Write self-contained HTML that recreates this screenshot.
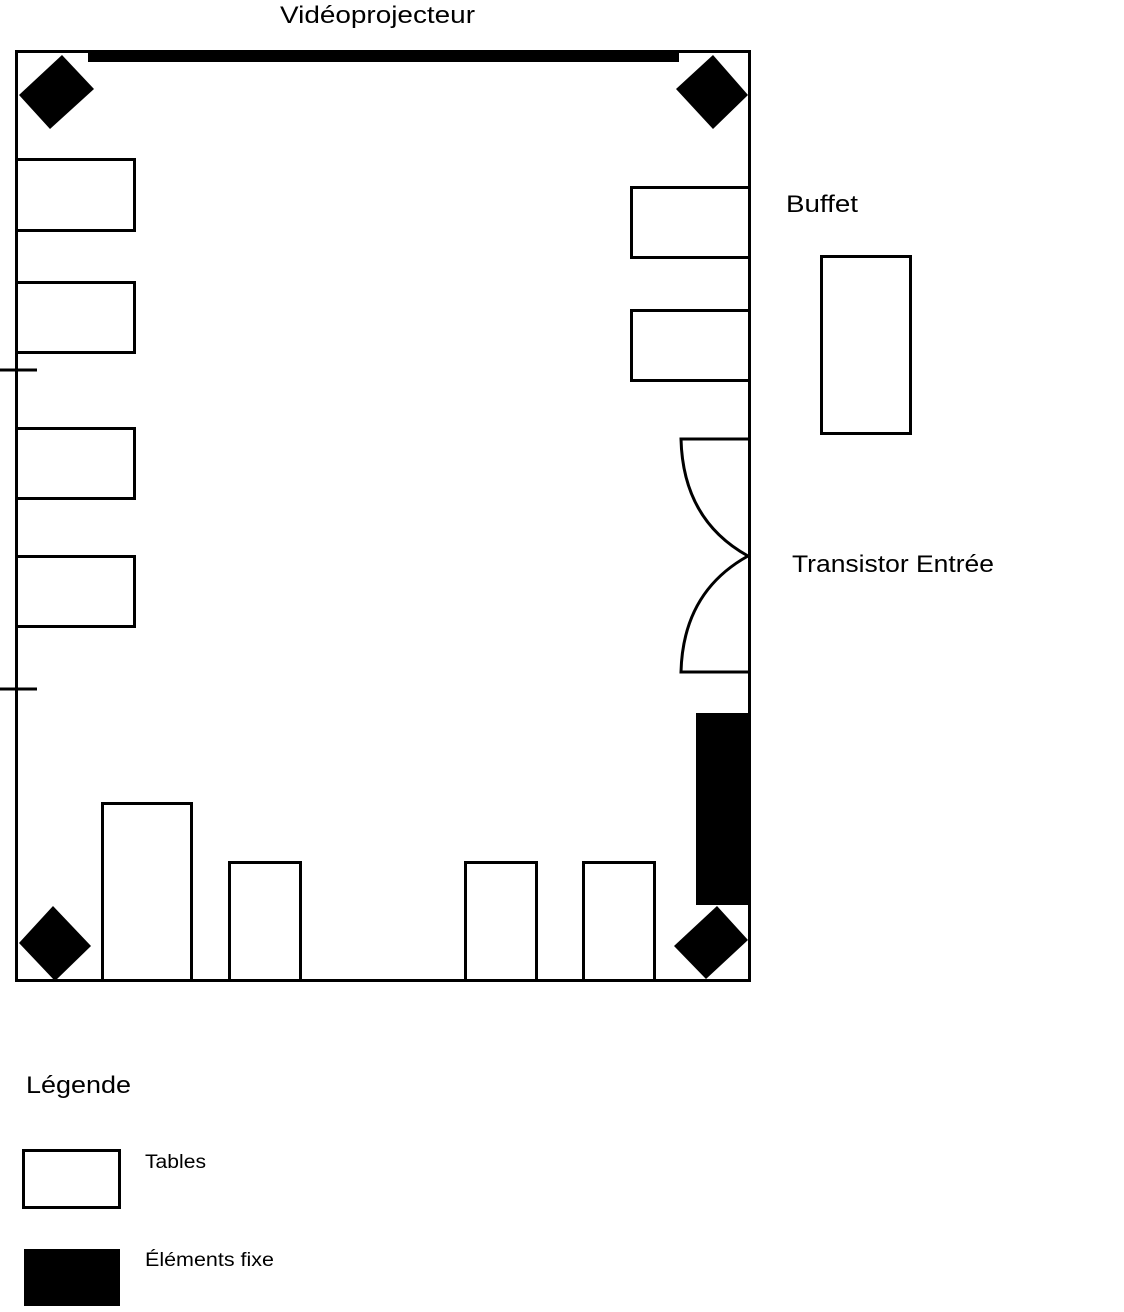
<!DOCTYPE html>
<html><head><style>
body{margin:0;background:#fff;width:1124px;height:1312px;overflow:hidden;font-family:"Liberation Sans",sans-serif;}
svg{position:absolute;left:0;top:0}
</style></head><body>
<svg width="1124" height="1312" xmlns="http://www.w3.org/2000/svg">
<g fill="none" stroke="#000" stroke-width="3">
<rect x="16.5" y="51.5" width="733" height="929"/>
<rect x="16.5" y="159.5" width="118" height="71"/>
<rect x="16.5" y="282.5" width="118" height="70"/>
<rect x="16.5" y="428.5" width="118" height="70"/>
<rect x="16.5" y="556.5" width="118" height="70"/>
<rect x="631.5" y="187.5" width="118" height="70"/>
<rect x="631.5" y="310.5" width="118" height="70"/>
<rect x="821.5" y="256.5" width="89" height="177"/>
<rect x="102.5" y="803.5" width="89" height="177"/>
<rect x="229.5" y="862.5" width="71" height="118"/>
<rect x="465.5" y="862.5" width="71" height="118"/>
<rect x="583.5" y="862.5" width="71" height="118"/>
<line x1="0" y1="370" x2="37" y2="370"/>
<line x1="0" y1="689" x2="37" y2="689"/>
<path d="M749 439 H681 Q683 520 748 556 Q683 592 681 672 H749"/>
<rect x="23.5" y="1150.5" width="96" height="57"/>
</g>
<rect x="88" y="50" width="591" height="12" fill="#000"/>
<rect x="696" y="713" width="54" height="192" fill="#000"/>
<rect x="24" y="1249" width="96" height="57" fill="#000"/>
<g fill="#000">
<polygon points="62,55 94,89 50,129 19,95"/>
<polygon points="713,55 748,95 713,129 676,89"/>
<polygon points="53,906 91,946 55,981 19,943"/>
<polygon points="717,906 748,940 706,979 674,946"/>
</g>
<g font-family="Liberation Sans, sans-serif" fill="#000">
<text x="280" y="23" font-size="24" textLength="195" lengthAdjust="spacingAndGlyphs">Vidéoprojecteur</text>
<text x="786" y="212" font-size="24" textLength="72" lengthAdjust="spacingAndGlyphs">Buffet</text>
<text x="792" y="572" font-size="24" textLength="202" lengthAdjust="spacingAndGlyphs">Transistor Entrée</text>
<text x="26" y="1093" font-size="24" textLength="105" lengthAdjust="spacingAndGlyphs">Légende</text>
<text x="145" y="1168" font-size="19" textLength="61" lengthAdjust="spacingAndGlyphs">Tables</text>
<text x="145" y="1266" font-size="19" textLength="129" lengthAdjust="spacingAndGlyphs">Éléments fixe</text>
</g>
</svg>
</body></html>
